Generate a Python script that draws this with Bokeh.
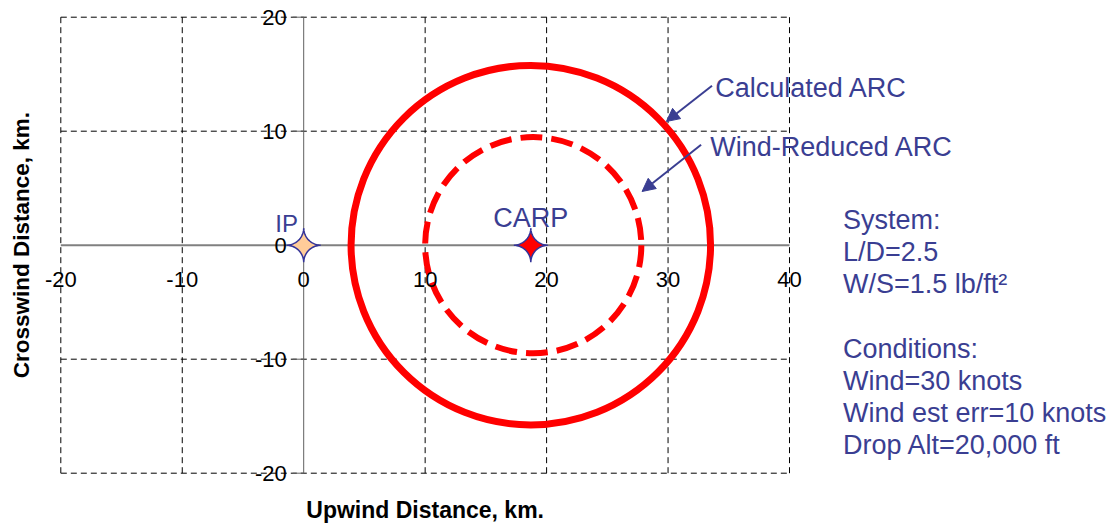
import numpy as np
from bokeh.plotting import figure
from bokeh.models import (ColumnDataSource, LabelSet, Arrow, NormalHead, Range1d)
from bokeh.core.properties import value
from bokeh.embed import file_html
from bokeh.resources import INLINE

# ---------------- data ----------------
x_ticks = [-20, -10, 0, 10, 20, 30, 40]
y_ticks = [-20, -10, 0, 10, 20]
x_tick_labels = ["-20", "-10", "0", "10", "20", "30", "40"]
y_tick_labels = ["-20", "-10", "0", "10", "20"]

point_names = ["IP", "CARP"]
point_x = [0.0, 18.7]
point_y = [0.0, 0.0]
point_fill = ["#FFCC99", "#FF0000"]

arc_names = ["Calculated ARC", "Wind-Reduced ARC"]
arc_cx = [18.7, 18.9]
arc_cy = [0.0, 0.0]
arc_radius = [14.8, 8.9]

info_lines = ["System:", "L/D=2.5", "W/S=1.5 lb/ft\u00b2", "",
              "Conditions:", "Wind=30 knots", "Wind est err=10 knots",
              "Drop Alt=20,000 ft"]

x_title = "Upwind Distance, km."
y_title = "Crosswind Distance, km."

# ---------------- layout / style ----------------
W, H = 1113, 524
X_MIN, X_MAX = x_ticks[0], x_ticks[-1]
Y_MIN, Y_MAX = y_ticks[0], y_ticks[-1]
# plot-area edges in pixels
PL, PR, PT, PB = 60.3, 789.0, 16.7, 472.7
px_x = (PR - PL) / (X_MAX - X_MIN)
px_y = (PB - PT) / (Y_MAX - Y_MIN)
x_range = Range1d(X_MIN - PL / px_x, X_MAX + (W - PR) / px_x)
y_range = Range1d(Y_MIN - (H - PB) / px_y, Y_MAX + PT / px_y)

FONT = value("Liberation Sans")
BLUE = "#3A3E92"

p = figure(width=W, height=H, x_range=x_range, y_range=y_range,
           output_backend="svg", toolbar_location=None,
           x_axis_location=None, y_axis_location=None,
           min_border=0, background_fill_color="white", border_fill_color="white")
p.outline_line_color = None
p.grid.visible = False


def add_text(xs, ys, texts, size, color, dx=0, dy=0, align="left",
             baseline="alphabetic", style="normal", angle=0.0):
    src = ColumnDataSource(dict(x=list(xs), y=list(ys), t=list(texts),
                                dx=dx if isinstance(dx, list) else [dx] * len(xs),
                                dy=dy if isinstance(dy, list) else [dy] * len(xs)))
    p.add_layout(LabelSet(x="x", y="y", text="t", source=src, x_offset="dx",
                          y_offset="dy", text_align=align, text_baseline=baseline,
                          text_font=FONT, text_font_size=size,
                          text_font_style=style, text_color=color, angle=angle))


# dashed grid (including the plot-area border)
vx = [t for t in x_ticks if t != 0]
hy = [t for t in y_ticks if t != 0]
p.segment(x0=vx, y0=[Y_MIN] * len(vx), x1=vx, y1=[Y_MAX] * len(vx),
          line_color="black", line_width=1, line_dash="6 4")
p.segment(x0=[X_MIN] * len(hy), y0=hy, x1=[X_MAX] * len(hy), y1=hy,
          line_color="black", line_width=1, line_dash="6 4")

# axis lines through the origin
p.segment(x0=[X_MIN], y0=[0], x1=[X_MAX], y1=[0], line_color="#808080", line_width=2)
p.segment(x0=[0], y0=[Y_MIN], x1=[0], y1=[Y_MAX], line_color="#606060", line_width=1)
# y-axis tick marks (pointing left)
tick_len = 11 / px_x
p.segment(x0=[-tick_len] * len(y_ticks), y0=y_ticks, x1=[0] * len(y_ticks), y1=y_ticks,
          line_color="#606060", line_width=1)

# arcs
p.circle(x=[arc_cx[0]], y=[arc_cy[0]], radius=[arc_radius[0]], radius_dimension="x",
         fill_color=None, line_color="#FF0000", line_width=7)
p.circle(x=[arc_cx[1]], y=[arc_cy[1]], radius=[arc_radius[1]], radius_dimension="x",
         fill_color=None, line_color="#FF0000", line_width=6, line_dash="22 9")

# four-point star markers
t = np.linspace(0, 2 * np.pi, 121)
shape_x = np.sign(np.cos(t)) * np.abs(np.cos(t)) ** 3.5
shape_y = np.sign(np.sin(t)) * np.abs(np.sin(t)) ** 3.5
star_r = 17.0
xs = [list(cx + shape_x * star_r / px_x) for cx in point_x]
ys = [list(cy + shape_y * star_r / px_y) for cy in point_y]
p.patches(xs, ys, fill_color=point_fill, line_color="#333399", line_width=1.5)

# point labels
add_text(point_x[:1], point_y[:1], point_names[:1], "24px", BLUE,
         dx=-17, dy=13, align="center")
add_text(point_x[1:], point_y[1:], point_names[1:], "27px", BLUE,
         dx=0, dy=18, align="center")

# tick labels
add_text(x_ticks, [0] * len(x_ticks), x_tick_labels, "22px", "black",
         dy=-41.5, align="center")
add_text([0] * len(y_ticks), y_ticks, y_tick_labels, "22px", "black",
         dx=-17, align="right", baseline="middle")

# axis titles
add_text([(X_MIN + X_MAX) / 2], [Y_MIN], [x_title], "23px", "black",
         dy=-45, align="center", style="bold")
add_text([X_MIN], [(Y_MIN + Y_MAX) / 2], [y_title], "22.5px", "black",
         dx=-31.5, align="center", style="bold", angle=np.pi / 2)

# arc callouts
add_text([33.88], [13.0], [arc_names[0]], "27px", BLUE)
add_text([33.47], [7.83], [arc_names[1]], "27px", BLUE)
head = dict(size=13, fill_color=BLUE, line_color=BLUE)
p.add_layout(Arrow(end=NormalHead(**head), x_start=33.62, y_start=13.99,
                   x_end=29.86, y_end=10.85, line_color=BLUE, line_width=2))
p.add_layout(Arrow(end=NormalHead(**head), x_start=32.72, y_start=8.81,
                   x_end=27.86, y_end=4.71, line_color=BLUE, line_width=2))

# info block
line_step = 32.1 / px_y
rows = [(1.40 - i * line_step, txt) for i, txt in enumerate(info_lines) if txt]
add_text([44.40] * len(rows), [r[0] for r in rows], [r[1] for r in rows], "27px", BLUE)

open("out.html", "w").write(file_html(p, INLINE))
